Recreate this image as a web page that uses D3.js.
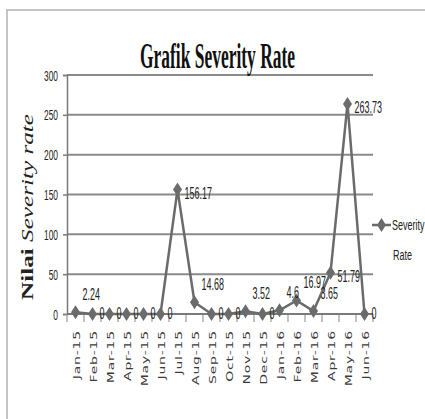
<!DOCTYPE html>
<html>
<head>
<meta charset="utf-8">
<script src="https://cdn.jsdelivr.net/npm/d3@7"></script>
<style>
  body { margin: 0; background: #fff; }
  svg { display: block; }
</style>
</head>
<body>
<svg id="chart" width="425" height="419"></svg>
<script>
// Data
const months = ["Jan-15", "Feb-15", "Mar-15", "Apr-15", "May-15", "Jun-15", "Jul-15", "Aug-15", "Sep-15",
                "Oct-15", "Nov-15", "Dec-15", "Jan-16", "Feb-16", "Mar-16", "Apr-16", "May-16", "Jun-16"];
const severity = [2.24, 0, 0, 0, 0, 0, 156.17, 14.68, 0, 0, 3.52, 0, 4.6, 16.97, 3.65, 51.79, 263.73, 0];
const yTicks = [0, 50, 100, 150, 200, 250, 300];

const svg = d3.select("#chart");
const grey = "#7a7a7a";
const lineGrey = "#6b6b6b";

// the original picture is squashed sideways, so text is squeezed in x
function squeezed(x, y, sx, rot) {
    return `translate(${x},${y}) scale(${sx},1)` + (rot ? ` rotate(${rot})` : "");
}

// outer chart border (right/bottom fall outside the picture)
svg.append("path")
    .attr("d", "M7,419 L7,10 L425,10")
    .attr("fill", "none")
    .attr("stroke", "#c4c4c4")
    .attr("stroke-width", 2);

const plot = { left: 67, right: 373, top: 75, bottom: 314 };

const x = d3.scaleBand()
    .domain(months)
    .range([plot.left, plot.right]);

const y = d3.scaleLinear()
    .domain([0, 300])
    .range([plot.bottom, plot.top]);

const cx = d => x(d) + x.bandwidth() / 2;

// gridlines
svg.append("g")
    .selectAll("line")
    .data(yTicks)
    .join("line")
    .attr("x1", plot.left)
    .attr("x2", plot.right)
    .attr("y1", d => y(d))
    .attr("y2", d => y(d))
    .attr("stroke", "#8a8a8a")
    .attr("stroke-width", 2);

// y axis
const yAxis = svg.append("g")
    .attr("transform", `translate(${plot.left},0)`)
    .call(d3.axisLeft(y).tickValues(yTicks).tickSize(4).tickFormat(d3.format("d")));
yAxis.select(".domain").attr("stroke", grey).attr("stroke-width", 1.5);
yAxis.selectAll(".tick line").attr("stroke", grey).attr("stroke-width", 1.5);
yAxis.selectAll(".tick text").remove();
yAxis.selectAll(".tick")
    .append("text")
    .attr("transform", squeezed(-9, 5, 0.6))
    .attr("text-anchor", "end")
    .attr("font-family", "Liberation Sans, Arial, sans-serif")
    .attr("font-size", 14)
    .attr("fill", "#222")
    .text(d => d);

// x axis
const xAxis = svg.append("g")
    .attr("transform", `translate(0,${plot.bottom})`)
    .call(d3.axisBottom(x).tickSize(0).tickFormat(""));
xAxis.select(".domain").remove();

// tick marks sit on the category boundaries
svg.append("g")
    .selectAll("line")
    .data(d3.range(months.length + 1))
    .join("line")
    .attr("x1", i => plot.left + i * x.step())
    .attr("x2", i => plot.left + i * x.step())
    .attr("y1", plot.bottom)
    .attr("y2", plot.bottom + 8)
    .attr("stroke", "#9a9a9a")
    .attr("stroke-width", 1.2);

svg.append("line")
    .attr("x1", plot.left)
    .attr("x2", plot.right)
    .attr("y1", plot.bottom)
    .attr("y2", plot.bottom)
    .attr("stroke", grey)
    .attr("stroke-width", 2);

svg.append("g")
    .selectAll("text")
    .data(months)
    .join("text")
    .attr("transform", d => squeezed(cx(d) + 4, 330, 0.6, -90))
    .attr("text-anchor", "end")
    .attr("font-family", "DejaVu Sans, sans-serif")
    .attr("font-size", 14)
    .attr("letter-spacing", 0.8)
    .attr("fill", "#3a3a3a")
    .text(d => d);

// series line
const pts = months.map((m, i) => ({ m: m, v: severity[i] }));

svg.append("path")
    .datum(pts)
    .attr("fill", "none")
    .attr("stroke", lineGrey)
    .attr("stroke-width", 2.5)
    .attr("stroke-linejoin", "round")
    .attr("d", d3.line().x(d => cx(d.m)).y(d => y(d.v)));

const diamond = "M0,-7 L4.5,0 L0,7 L-4.5,0 Z";

svg.append("g")
    .selectAll("path")
    .data(pts)
    .join("path")
    .attr("d", diamond)
    .attr("transform", d => `translate(${cx(d.m)},${y(d.v)})`)
    .attr("fill", lineGrey);

// data labels
svg.append("g")
    .selectAll("text")
    .data(pts)
    .join("text")
    .attr("transform", d => {
        const py = y(d.v);
        let ly = py + 5;
        if (d.v > 0 && d.v < 20) ly = py - 12;
        else if (d.v >= 20) ly = py + 9;
        return squeezed(cx(d.m) + 7, ly, 0.56);
    })
    .attr("font-family", "Liberation Sans, Arial, sans-serif")
    .attr("font-size", 16)
    .attr("fill", "#222")
    .text(d => d.v);

// title
svg.append("text")
    .attr("x", 140)
    .attr("y", 68)
    .attr("textLength", 155)
    .attr("lengthAdjust", "spacingAndGlyphs")
    .attr("font-family", "Liberation Serif, Times New Roman, serif")
    .attr("font-weight", "bold")
    .attr("font-size", 35)
    .attr("fill", "#111")
    .text("Grafik Severity Rate");

// y axis title
const yTitle = svg.append("text")
    .attr("transform", "translate(33,300) rotate(-90)")
    .attr("textLength", 186)
    .attr("lengthAdjust", "spacingAndGlyphs")
    .attr("font-family", "Liberation Serif, Times New Roman, serif")
    .attr("font-size", 17)
    .attr("fill", "#222");
yTitle.append("tspan").attr("font-weight", "bold").text("Nilai ");
yTitle.append("tspan").attr("font-style", "italic").text("Severity rate");

// legend
const legend = svg.append("g").attr("transform", "translate(372,225)");
legend.append("line")
    .attr("x1", 0).attr("x2", 19)
    .attr("stroke", lineGrey)
    .attr("stroke-width", 2.5);
legend.append("path")
    .attr("d", diamond)
    .attr("transform", "translate(9.5,0)")
    .attr("fill", lineGrey);
legend.append("text")
    .attr("transform", squeezed(20, 5, 0.6))
    .attr("font-family", "Liberation Sans, Arial, sans-serif")
    .attr("font-size", 15)
    .attr("fill", "#222")
    .text("Severity");
legend.append("text")
    .attr("transform", squeezed(21, 35, 0.6))
    .attr("font-family", "Liberation Sans, Arial, sans-serif")
    .attr("font-size", 15)
    .attr("fill", "#222")
    .text("Rate");
</script>
</body>
</html>
